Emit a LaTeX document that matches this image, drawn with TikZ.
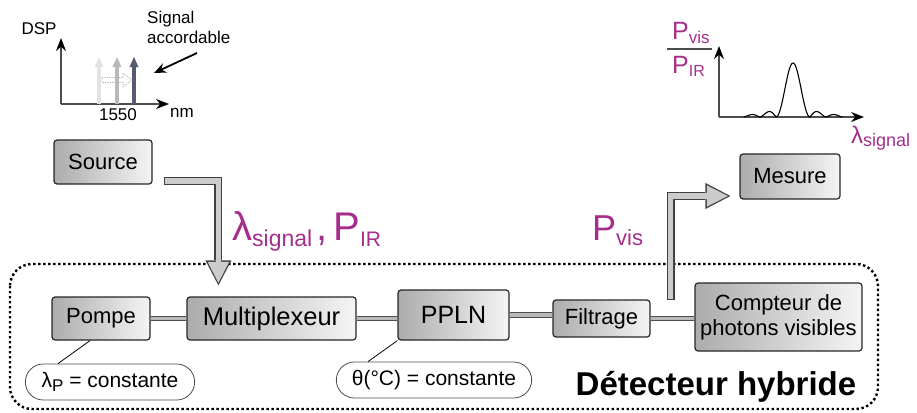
\documentclass[tikz,border=0pt]{standalone}
\usepackage{fontspec}
\setmainfont{Liberation Sans}
\usetikzlibrary{arrows.meta,shapes.misc,calc}

\definecolor{lila}{RGB}{165,45,140}
\definecolor{slate}{RGB}{85,92,112}
\newcommand{\lowtxt}[2]{\raisebox{-0.3ex}{\fontsize{#1}{#1}\selectfont #2}}
\newcommand{\fatarrow}[1]{%
  \draw[line width=8, black!75, -{Triangle[length=25,width=26,line width=0pt]}] #1;
  \draw[line width=5.4, gray!40, shorten <=1.3, shorten >=2.6, -{Triangle[length=21,width=21.5,line width=0pt]}] #1;}

\begin{document}
\begin{tikzpicture}[x=1pt, y=-1pt,
    box/.style={draw=black!85, line width=1.2, rounded corners=3, left color=gray!65, right color=gray!8,
                font=\fontsize{22}{25}\selectfont, inner sep=0pt},
    link/.style={draw=black!70, line width=0.9, double=gray!55, double distance=3.6},
    tag/.style={rounded rectangle, draw=black!70, line width=0.8, minimum height=36,
                font=\fontsize{21}{24}\selectfont},
    axis/.style={draw=gray!60!black, line width=1.3, -{Stealth[length=13,width=10,color=black]}},
    lbl/.style={text=lila, inner sep=0pt, anchor=base west},
    small/.style={font=\fontsize{17}{20}\selectfont, inner sep=0pt},
    declare function={sinc(\u)=sin(\u)/(\u*pi/180);}]
    \useasboundingbox (0,0) rectangle (917,412);

    % spectre du signal
    \coordinate (dspO) at (61,104);
    \draw[axis] (dspO) -- ++(0,-66);
    \draw[axis] (dspO) -- ++(108,0);
    \node[small] (dsp) at (39,29) {DSP};
    \node[small] (l1550) at (118,115) {1550};
    \node[small] (nm) at (182,113) {nm};
    \node[small, align=left, anchor=north west] (sig) at (147,10.5) {Signal\\accordable};
    \foreach \x/\c in {99/gray!22, 117/gray!55, 134/slate}
        \draw[line width=3.5, \c, -{Triangle[length=10,width=9,line width=0pt]}] (\x,104) -- (\x,57);
    \draw[gray!60, line width=0.8, dash pattern=on 1.2 off 1.2]
        (102,77.5) -- (123,77.5) -- (123,73) -- (132,80) -- (123,87) -- (123,82.5) -- (102,82.5) -- cycle;
    \coordinate (sigfrom) at (197,53);
    \coordinate (sigto) at (154,73);
    \draw[line width=1.8, -{Stealth[length=12,width=10]}] (sigfrom) -- (sigto);

    % courbe mesuree
    \coordinate (visO) at (719,117);
    \draw[axis] (visO) -- ++(0,-71);
    \draw[axis] (visO) -- ++(145,0);
    \draw[line width=1.1] plot[domain=-538:538, samples=240]
        ({793+\x/180*16.5}, {117-54*abs(sinc(\x))*sqrt(abs(sinc(\x)))});
    \node[lbl, font=\fontsize{25}{25}\selectfont] (num) at (672,40) {P\lowtxt{17}{vis}};
    \draw[line width=1.2, gray!60!black] (667,49) -- (712,49);
    \node[lbl, font=\fontsize{25}{25}\selectfont] (den) at (672,73) {P\lowtxt{16}{IR}};
    \node[lbl, font=\fontsize{24}{24}\selectfont] (lamsig) at (851,143) {λ\lowtxt{18}{signal}};

    % detecteur
    \draw[line width=2.4, dash pattern=on 2.4 off 2.6, rounded corners=22] (10,264) rectangle (878,409);
    \node[font=\fontsize{33}{33}\selectfont\bfseries, inner sep=0pt] (hybride) at (716,387) {Détecteur hybride};

    \node[box, minimum width=98, minimum height=44] (Source) at (103,162) {Source};
    \node[box, minimum width=100, minimum height=45] (Mesure) at (790,176.5) {Mesure};
    \node[box, minimum width=98, minimum height=43] (Pompe) at (101,318.5) {Pompe};
    \node[box, minimum width=169, minimum height=43, font=\fontsize{25.5}{30}\selectfont] (Multiplexeur) at (271.5,318.5) {Multiplexeur};
    \node[box, minimum width=111, minimum height=50, font=\fontsize{25}{30}\selectfont] (PPLN) at (453.5,315) {PPLN};
    \node[box, minimum width=97, minimum height=37] (Filtrage) at (601.5,318.5) {Filtrage};
    \node[box, minimum width=167, minimum height=68, align=center] (Compteur) at (778.5,317) {Compteur de\\photons visibles};

    \draw[link] (Pompe) -- (Multiplexeur);
    \draw[link] (Multiplexeur.east) -- (Multiplexeur.east -| PPLN.west);
    \draw[link] (PPLN.east) -- (PPLN.east -| Filtrage.west);
    \draw[link] (Filtrage.east) -- (Filtrage.east -| Compteur.west);

    \node[tag, minimum width=176] (lamP) at (110,382) {λ\lowtxt{17}{P} = constante};
    \node[tag, minimum width=202] (theta) at (434,380) {θ(°C) = constante};
    \draw[line width=0.8] ($(Pompe.south)+(-11,0)$) -- ($(lamP.north)+(-52,0)$);
    \draw[line width=0.8] (PPLN.south west) -- ($(theta.north)+(-66,0)$);

    % fleches
    \fatarrow{($(Source.east)+(11,19)$) -| ($(Multiplexeur.north west)+(32,-11)$)}
    \fatarrow{($(Filtrage.east)+(20,-18.5)$) |- ($(Mesure.west)+(-9,19.5)$)}
    \node[lbl, font=\fontsize{40}{40}\selectfont] (inlbl) at (232,240) {λ\lowtxt{23}{signal}\hspace{4pt},\hspace{6pt}P\lowtxt{21}{IR}};
    \node[lbl, font=\fontsize{36}{36}\selectfont] (outlbl) at (592,240) {P\lowtxt{22}{vis}};
\end{tikzpicture}
\end{document}
